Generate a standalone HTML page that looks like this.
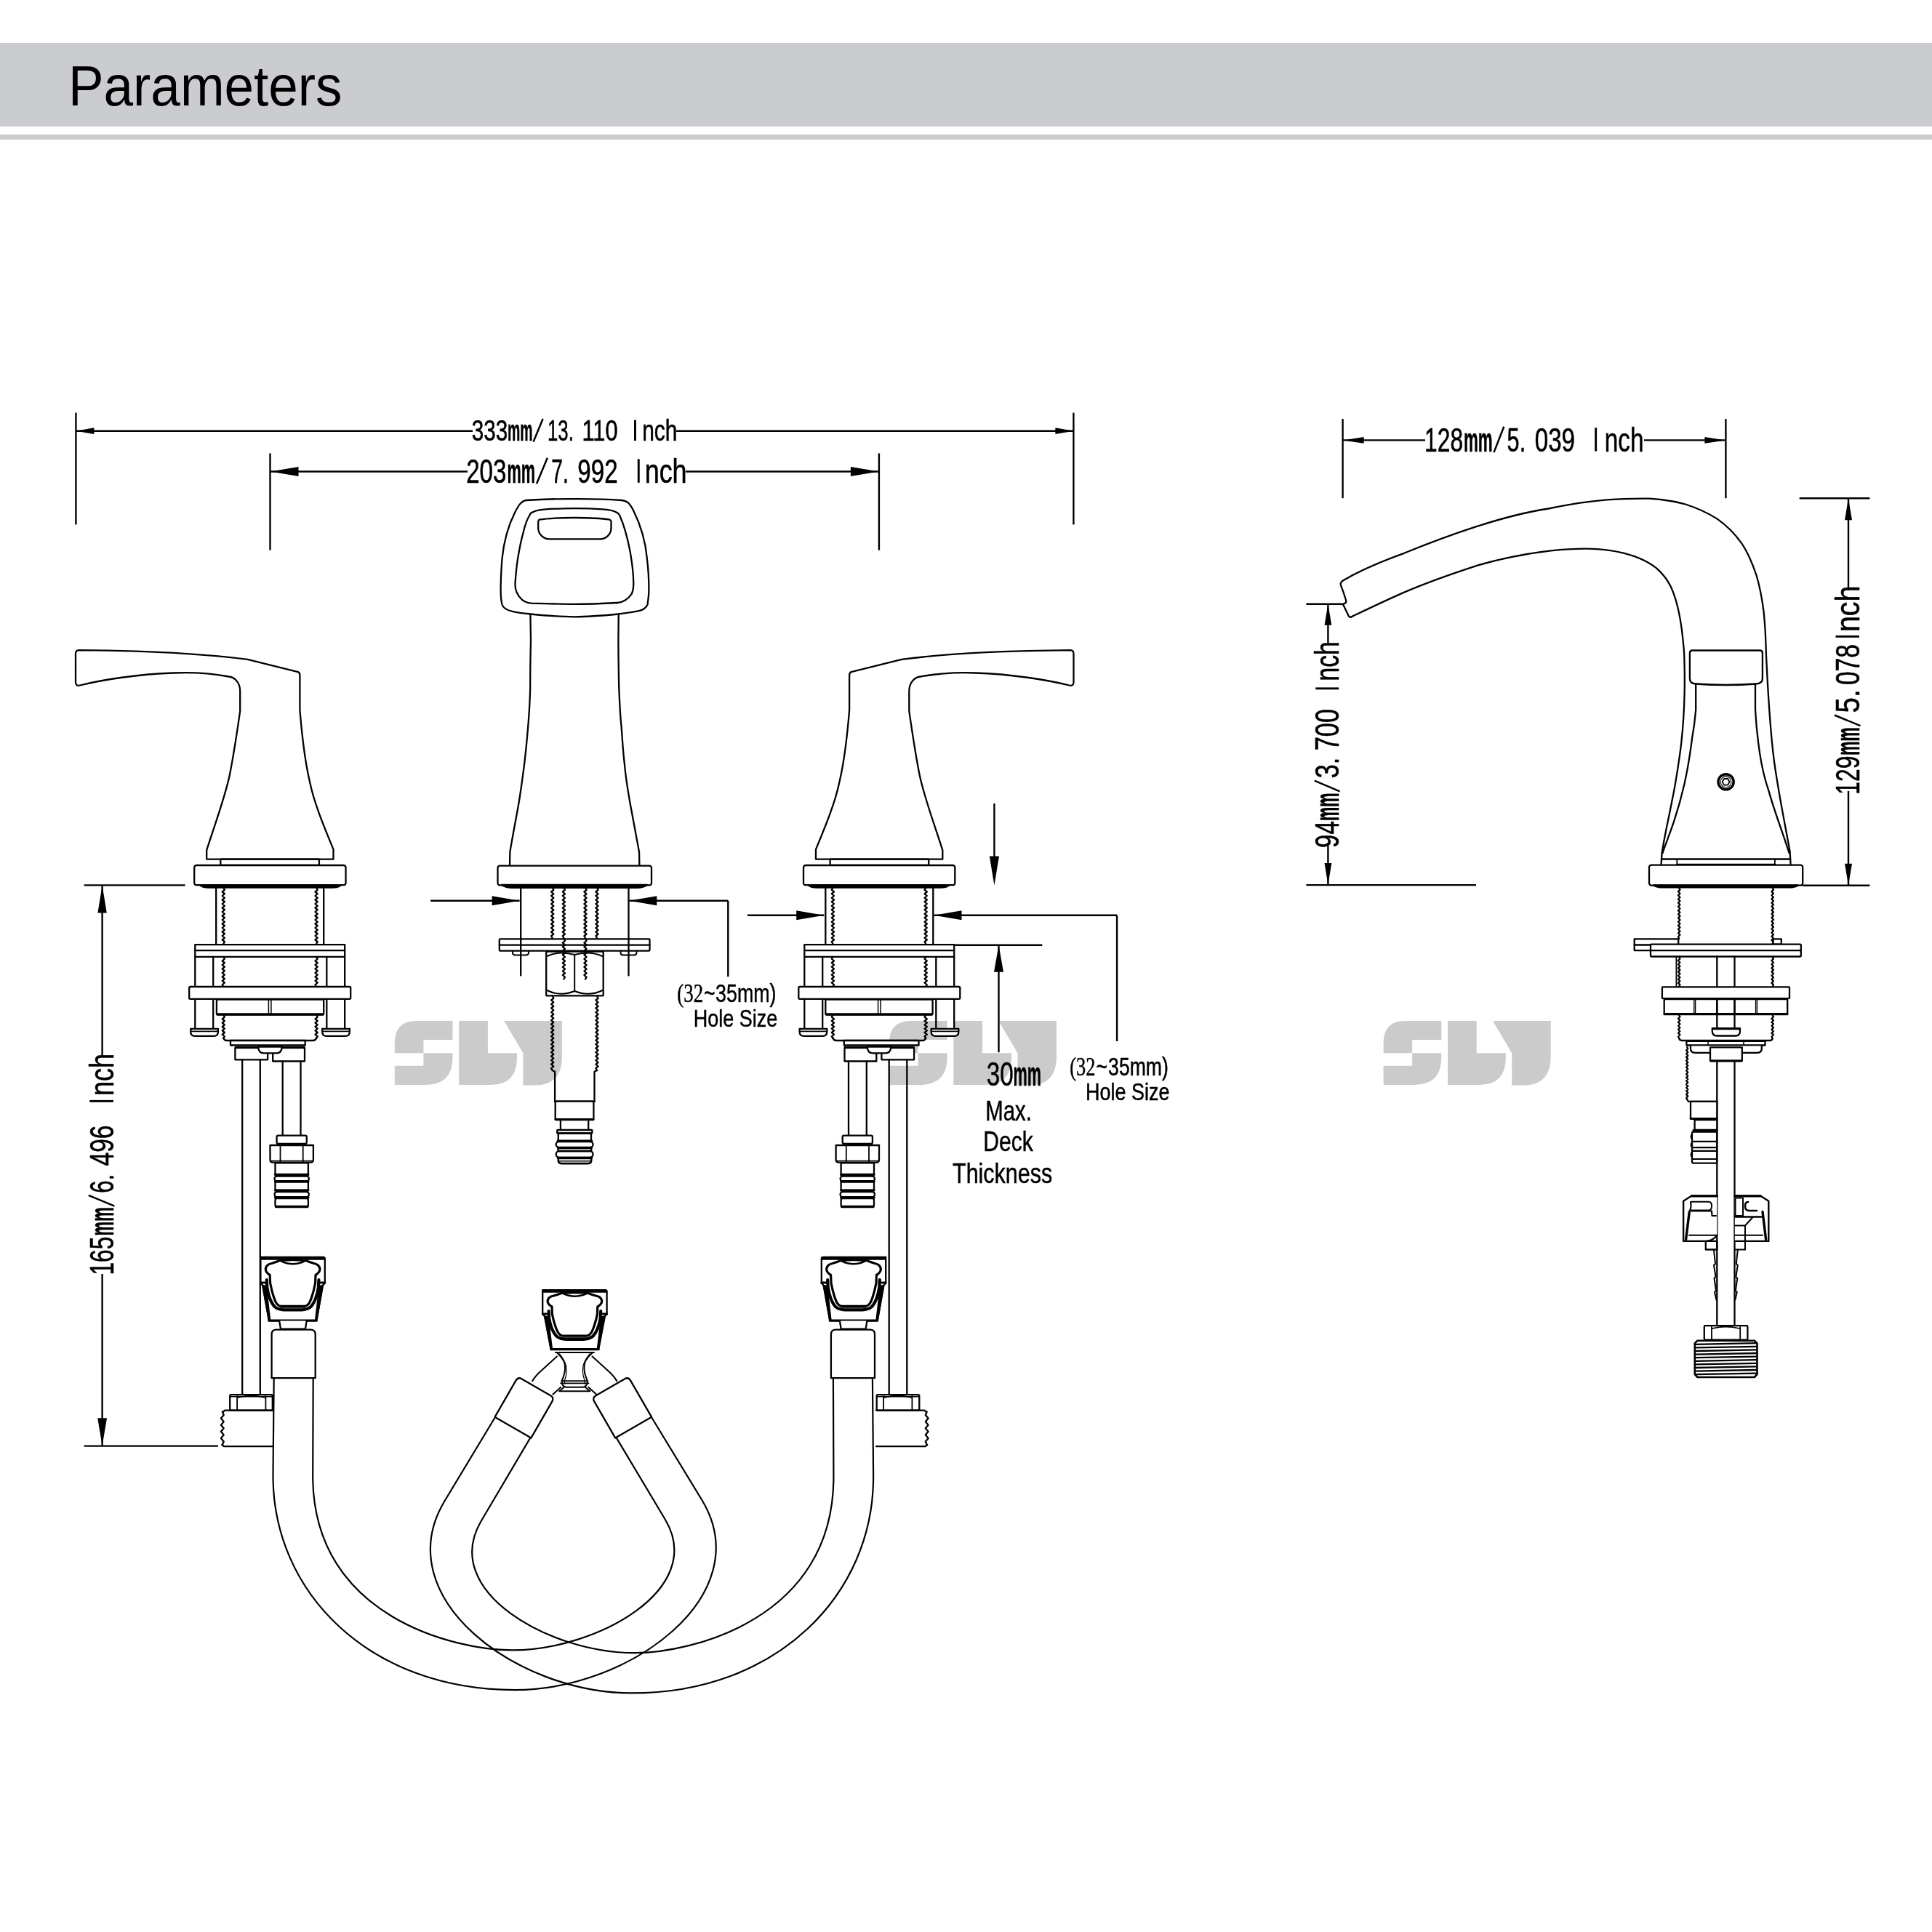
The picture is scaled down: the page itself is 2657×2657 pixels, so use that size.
<!DOCTYPE html>
<html><head><meta charset="utf-8"><title>Parameters</title>
<style>
html,body{margin:0;padding:0;background:#fff;}
body{width:2657px;height:2657px;position:relative;overflow:hidden;font-family:"Liberation Sans",sans-serif;}
.bar{position:absolute;left:0;top:59px;width:2657px;height:115px;background:#cbccd0;}
.bar2{position:absolute;left:0;top:185px;width:2657px;height:6.5px;background:#cbccd0;}
.title{position:absolute;left:94.4px;top:61px;height:115px;line-height:115px;font-size:78px;color:#000;white-space:nowrap;transform:scaleX(0.934);transform-origin:0 0;}
svg{position:absolute;left:0;top:0;will-change:transform;}
</style></head>
<body>
<div class="bar"></div><div class="bar2"></div>
<div class="title">Parameters</div>
<svg width="2657" height="2657" viewBox="0 0 2657 2657">
<g transform="translate(542.8,1403.9)" fill="#cbcbcb" stroke="none"><path d="M0,30.5 Q0,0 29.5,0 L79.7,0 L79.7,26.2 L39.6,26.2 L39.6,44.3 L79.7,44.3 L79.7,50.7 Q79.7,88.1 42,88.1 L0,88.1 L0,61.8 L39.6,61.8 L39.6,44.3 L0,44.3 Z"/><path d="M88.4,0 L128.1,0 L128.1,44.3 L168.2,44.3 L168.2,50.7 Q168.2,88.1 132,88.1 L88.4,88.1 Z"/><path d="M150.3,0 L230.1,0 L230.1,49.4 Q230.1,88.7 192.7,88.7 L176.6,88.7 L176.6,44.3 Z"/></g>
<g transform="translate(1222.9,1403.9)" fill="#cbcbcb" stroke="none"><path d="M0,30.5 Q0,0 29.5,0 L79.7,0 L79.7,26.2 L39.6,26.2 L39.6,44.3 L79.7,44.3 L79.7,50.7 Q79.7,88.1 42,88.1 L0,88.1 L0,61.8 L39.6,61.8 L39.6,44.3 L0,44.3 Z"/><path d="M88.4,0 L128.1,0 L128.1,44.3 L168.2,44.3 L168.2,50.7 Q168.2,88.1 132,88.1 L88.4,88.1 Z"/><path d="M150.3,0 L230.1,0 L230.1,49.4 Q230.1,88.7 192.7,88.7 L176.6,88.7 L176.6,44.3 Z"/></g>
<g transform="translate(1902.6,1403.9)" fill="#cbcbcb" stroke="none"><path d="M0,30.5 Q0,0 29.5,0 L79.7,0 L79.7,26.2 L39.6,26.2 L39.6,44.3 L79.7,44.3 L79.7,50.7 Q79.7,88.1 42,88.1 L0,88.1 L0,61.8 L39.6,61.8 L39.6,44.3 L0,44.3 Z"/><path d="M88.4,0 L128.1,0 L128.1,44.3 L168.2,44.3 L168.2,50.7 Q168.2,88.1 132,88.1 L88.4,88.1 Z"/><path d="M150.3,0 L230.1,0 L230.1,49.4 Q230.1,88.7 192.7,88.7 L176.6,88.7 L176.6,44.3 Z"/></g>
<g stroke="#000" stroke-width="2.4" fill="none"><line x1="104.4" y1="567.6" x2="104.4" y2="721.4"/><line x1="1476.4" y1="567.6" x2="1476.4" y2="721.4"/><line x1="104.4" y1="592.7" x2="650" y2="592.7"/><line x1="930" y1="592.7" x2="1476.4" y2="592.7"/><path d="M104.4,592.7 L129.4,588.3 L129.4,597.1 Z" fill="#000" stroke="none"/><path d="M1476.4,592.7 L1451.4,597.1 L1451.4,588.3 Z" fill="#000" stroke="none"/><line x1="371.5" y1="623.5" x2="371.5" y2="756.6"/><line x1="1208.9" y1="623.5" x2="1208.9" y2="756.6"/><line x1="371.5" y1="648.5" x2="643" y2="648.5"/><line x1="943" y1="648.5" x2="1208.9" y2="648.5"/><path d="M371.5,648.5 L410.5,641.9 L410.5,655.1 Z" fill="#000" stroke="none"/><path d="M1208.9,648.5 L1169.9,655.1 L1169.9,641.9 Z" fill="#000" stroke="none"/><line x1="115.7" y1="1217.4" x2="254.6" y2="1217.4"/><line x1="115.7" y1="1988.6" x2="300" y2="1988.6"/><line x1="140.6" y1="1217.4" x2="140.6" y2="1452"/><line x1="140.6" y1="1752" x2="140.6" y2="1988.6"/><path d="M140.6,1217.4 L146.8,1255.4 L134.4,1255.4 Z" fill="#000" stroke="none"/><path d="M140.6,1988.6 L134.2,1950.2 L147.0,1950.2 Z" fill="#000" stroke="none"/><line x1="592.1" y1="1238.8" x2="714.6" y2="1238.8"/><path d="M714.6,1238.8 L676.6,1245.3 L676.6,1232.3 Z" fill="#000" stroke="none"/><line x1="865.3" y1="1238.8" x2="1001.3" y2="1238.8"/><line x1="1001.3" y1="1238.8" x2="1001.3" y2="1343.2"/><path d="M865.3,1238.8 L903.3,1232.3 L903.3,1245.3 Z" fill="#000" stroke="none"/><line x1="1028" y1="1258.7" x2="1133.2" y2="1258.7"/><path d="M1133.2,1258.7 L1095.2,1265.2 L1095.2,1252.2 Z" fill="#000" stroke="none"/><line x1="1284.5" y1="1258.7" x2="1536.1" y2="1258.7"/><line x1="1536.1" y1="1258.7" x2="1536.1" y2="1432"/><path d="M1284.5,1258.7 L1322.5,1252.2 L1322.5,1265.2 Z" fill="#000" stroke="none"/><line x1="1367.4" y1="1105" x2="1367.4" y2="1190"/><path d="M1367.4,1217.6 L1360.8,1177.6 L1374.0,1177.6 Z" fill="#000" stroke="none"/><line x1="1313" y1="1299.8" x2="1433.3" y2="1299.8"/><line x1="1373.5" y1="1300" x2="1373.5" y2="1447.2"/><path d="M1373.5,1299.8 L1380.0,1336.8 L1367.0,1336.8 Z" fill="#000" stroke="none"/><line x1="1846.6" y1="576.1" x2="1846.6" y2="685.2"/><line x1="2373.4" y1="576.1" x2="2373.4" y2="685.2"/><line x1="1846.6" y1="605.4" x2="1960" y2="605.4"/><line x1="2261" y1="605.4" x2="2373.4" y2="605.4"/><path d="M1846.6,605.4 L1875.6,601.0 L1875.6,609.8 Z" fill="#000" stroke="none"/><path d="M2373.4,605.4 L2344.4,609.8 L2344.4,601.0 Z" fill="#000" stroke="none"/><line x1="1796.4" y1="830.7" x2="1846.6" y2="830.7"/><line x1="1796.4" y1="1217.1" x2="2030" y2="1217.1"/><line x1="1826.4" y1="830.7" x2="1826.4" y2="884"/><line x1="1826.4" y1="1163" x2="1826.4" y2="1217.1"/><path d="M1826.4,830.7 L1831.3,859.7 L1821.5,859.7 Z" fill="#000" stroke="none"/><path d="M1826.4,1217.1 L1821.5,1187.1 L1831.3,1187.1 Z" fill="#000" stroke="none"/><line x1="2474.7" y1="685.3" x2="2571.4" y2="685.3"/><line x1="2479" y1="1217.8" x2="2571.4" y2="1217.8"/><line x1="2542" y1="685.3" x2="2542" y2="812"/><line x1="2542" y1="1088" x2="2542" y2="1217.8"/><path d="M2542.0,685.3 L2547.0,715.3 L2537.0,715.3 Z" fill="#000" stroke="none"/><path d="M2542.0,1217.8 L2537.0,1187.8 L2547.0,1187.8 Z" fill="#000" stroke="none"/></g>
<g fill="#000" stroke="#000" stroke-width="0.6"><text x="648.8" y="606.1" font-size="40.714285714285715" font-family="Liberation Sans" textLength="49.4" lengthAdjust="spacingAndGlyphs">333</text><text x="698.0" y="606.1" font-size="40.714285714285715" font-family="Liberation Sans" font-weight="bold" textLength="34.6" lengthAdjust="spacingAndGlyphs">mm</text><line x1="733.6" y1="607.6" x2="746.6" y2="576.1" stroke="#000" stroke-width="2.5"/><text x="753.0" y="606.1" font-size="40.714285714285715" font-family="Liberation Sans" textLength="35.8" lengthAdjust="spacingAndGlyphs">13.</text><text x="800.5" y="606.1" font-size="40.714285714285715" font-family="Liberation Sans" textLength="49.1" lengthAdjust="spacingAndGlyphs">110</text><rect x="872.0" y="577.6" width="2.9" height="28.5" fill="#000" stroke="none"/><text x="883.2" y="606.1" font-size="40.714285714285715" font-family="Liberation Sans" textLength="48.2" lengthAdjust="spacingAndGlyphs">nch</text><text x="641.2" y="663.8" font-size="46.42857142857143" font-family="Liberation Sans" textLength="55.3" lengthAdjust="spacingAndGlyphs">203</text><text x="697.5" y="663.8" font-size="46.42857142857143" font-family="Liberation Sans" font-weight="bold" textLength="38.6" lengthAdjust="spacingAndGlyphs">mm</text><line x1="738.0" y1="665.3" x2="752.8" y2="629.8" stroke="#000" stroke-width="2.5"/><text x="758.2" y="663.8" font-size="46.42857142857143" font-family="Liberation Sans" textLength="23.6" lengthAdjust="spacingAndGlyphs">7.</text><text x="794.3" y="663.8" font-size="46.42857142857143" font-family="Liberation Sans" textLength="55.3" lengthAdjust="spacingAndGlyphs">992</text><rect x="876.8" y="631.3" width="2.9" height="32.5" fill="#000" stroke="none"/><text x="886.7" y="663.8" font-size="46.42857142857143" font-family="Liberation Sans" textLength="57.9" lengthAdjust="spacingAndGlyphs">nch</text><text x="1959.1" y="620.6" font-size="46.14285714285714" font-family="Liberation Sans" textLength="53.0" lengthAdjust="spacingAndGlyphs">128</text><text x="2013.0" y="620.6" font-size="46.14285714285714" font-family="Liberation Sans" font-weight="bold" textLength="39.7" lengthAdjust="spacingAndGlyphs">mm</text><line x1="2054.5" y1="622.1" x2="2068.3" y2="586.8" stroke="#000" stroke-width="2.5"/><text x="2072.6" y="620.6" font-size="46.14285714285714" font-family="Liberation Sans" textLength="25.6" lengthAdjust="spacingAndGlyphs">5.</text><text x="2110.7" y="620.6" font-size="46.14285714285714" font-family="Liberation Sans" textLength="55.4" lengthAdjust="spacingAndGlyphs">039</text><rect x="2193.2" y="588.3" width="2.9" height="32.3" fill="#000" stroke="none"/><text x="2206.8" y="620.6" font-size="46.14285714285714" font-family="Liberation Sans" textLength="53.7" lengthAdjust="spacingAndGlyphs">nch</text><g transform="translate(1841.1,1165.1) rotate(-90)"><text x="-0.8" y="0" font-size="45.42857142857143" font-family="Liberation Sans" textLength="36.8" lengthAdjust="spacingAndGlyphs">94</text><text x="36.2" y="0" font-size="45.42857142857143" font-family="Liberation Sans" font-weight="bold" textLength="38.5" lengthAdjust="spacingAndGlyphs">mm</text><line x1="76.8" y1="1.5" x2="91.4" y2="-33.3" stroke="#000" stroke-width="2.5"/><text x="94.9" y="0" font-size="45.42857142857143" font-family="Liberation Sans" textLength="28.6" lengthAdjust="spacingAndGlyphs">3.</text><text x="132.8" y="0" font-size="45.42857142857143" font-family="Liberation Sans" textLength="57.5" lengthAdjust="spacingAndGlyphs">700</text><rect x="216.8" y="-31.8" width="2.9" height="31.8" fill="#000" stroke="none"/><text x="228.6" y="0" font-size="45.42857142857143" font-family="Liberation Sans" textLength="54.3" lengthAdjust="spacingAndGlyphs">nch</text></g><g transform="translate(2557,1092) rotate(-90)"><text x="-0.7" y="0" font-size="46.42857142857143" font-family="Liberation Sans" textLength="53.1" lengthAdjust="spacingAndGlyphs">129</text><text x="53.3" y="0" font-size="46.42857142857143" font-family="Liberation Sans" font-weight="bold" textLength="38.6" lengthAdjust="spacingAndGlyphs">mm</text><line x1="93.9" y1="1.5" x2="108.5" y2="-34.0" stroke="#000" stroke-width="2.5"/><text x="111.6" y="0" font-size="46.42857142857143" font-family="Liberation Sans" textLength="32.2" lengthAdjust="spacingAndGlyphs">5.</text><text x="149.9" y="0" font-size="46.42857142857143" font-family="Liberation Sans" textLength="55.9" lengthAdjust="spacingAndGlyphs">078</text><rect x="215.2" y="-32.5" width="2.9" height="32.5" fill="#000" stroke="none"/><text x="222.9" y="0" font-size="46.42857142857143" font-family="Liberation Sans" textLength="63.7" lengthAdjust="spacingAndGlyphs">nch</text></g><g transform="translate(155.9,1752.7) rotate(-90)"><text x="-0.8" y="0" font-size="46.57142857142858" font-family="Liberation Sans" textLength="52.7" lengthAdjust="spacingAndGlyphs">165</text><text x="53.2" y="0" font-size="46.57142857142858" font-family="Liberation Sans" font-weight="bold" textLength="39.3" lengthAdjust="spacingAndGlyphs">mm</text><line x1="94.1" y1="1.5" x2="108.8" y2="-34.1" stroke="#000" stroke-width="2.5"/><text x="111.9" y="0" font-size="46.57142857142858" font-family="Liberation Sans" textLength="25.9" lengthAdjust="spacingAndGlyphs">6.</text><text x="149.2" y="0" font-size="46.57142857142858" font-family="Liberation Sans" textLength="56.0" lengthAdjust="spacingAndGlyphs">496</text><rect x="236.9" y="-32.6" width="2.9" height="32.6" fill="#000" stroke="none"/><text x="245.7" y="0" font-size="46.57142857142858" font-family="Liberation Sans" textLength="57.9" lengthAdjust="spacingAndGlyphs">nch</text></g></g>
<g fill="#000" stroke="#000" stroke-width="0.5"><text x="931.3" y="1377.6" font-size="36.36363636363636" font-family="Liberation Serif" textLength="35.8" lengthAdjust="spacingAndGlyphs">(32</text><text x="968.0" y="1377.6" font-size="34.714285714285715" font-family="Liberation Sans" textLength="15.6" lengthAdjust="spacingAndGlyphs">~</text><text x="984.1" y="1377.6" font-size="34.714285714285715" font-family="Liberation Sans" textLength="83.4" lengthAdjust="spacingAndGlyphs">35mm)</text><text x="953.7" y="1411.8" font-size="34.0" font-family="Liberation Sans" textLength="115.5" lengthAdjust="spacingAndGlyphs">Hole Size</text><text x="1471.3" y="1478.7" font-size="36.36363636363636" font-family="Liberation Serif" textLength="35.2" lengthAdjust="spacingAndGlyphs">(32</text><text x="1507.5" y="1478.7" font-size="34.714285714285715" font-family="Liberation Sans" textLength="15.6" lengthAdjust="spacingAndGlyphs">~</text><text x="1524.1" y="1478.7" font-size="34.714285714285715" font-family="Liberation Sans" textLength="82.8" lengthAdjust="spacingAndGlyphs">35mm)</text><text x="1493.0" y="1512.8" font-size="34.0" font-family="Liberation Sans" textLength="115.5" lengthAdjust="spacingAndGlyphs">Hole Size</text><text x="1356.7" y="1492.8" font-size="46.42857142857143" font-family="Liberation Sans" textLength="37.0" lengthAdjust="spacingAndGlyphs">30</text><text x="1393.6" y="1492.8" font-size="46.42857142857143" font-family="Liberation Sans" font-weight="bold" textLength="38.5" lengthAdjust="spacingAndGlyphs">mm</text><text x="1355.2" y="1540.5" font-size="38.714285714285715" font-family="Liberation Sans" textLength="63.6" lengthAdjust="spacingAndGlyphs">Max.</text><text x="1352.3" y="1583.2" font-size="38.57142857142857" font-family="Liberation Sans" textLength="68.5" lengthAdjust="spacingAndGlyphs">Deck</text><text x="1310.0" y="1626.5" font-size="38.57142857142857" font-family="Liberation Sans" textLength="137.3" lengthAdjust="spacingAndGlyphs">Thickness</text></g>
<g id="lv" stroke="#000" stroke-width="2.3" fill="none" stroke-linejoin="round" stroke-linecap="round"><path d="M108.6,894.2 C200,895 280,899 340.5,906.9 L409.9,924.2 Q412.4,925 412.4,929 L412.4,976.6 C416,1020 420,1050 426,1075 C432,1105 447,1140 458.5,1168.1 L458.5,1181.6 L284.2,1181.6 L284.2,1169.2 C295,1135 310,1095 316,1065 C322,1035 327,1000 330.2,977.7 L330.2,950.7 C330.2,938 322,931 314.6,930.5 C290,926 260,924.5 239,925.5 C190,927 140,935 110,942.5 Q104,944 104,938 L104,899 Q104,894.4 108.6,894.2 Z" fill="#fff"/><rect x="303.3" y="1181.6" width="135.6" height="8.3" fill="none"/><rect x="267.2" y="1190" width="208.3" height="27.2" rx="3" fill="#fff"/><path d="M275,1217.3 Q279,1220.6 287,1220.6 L457,1220.6 Q465,1220.6 469,1217.3 Z" fill="#000"/><line x1="297.2" y1="1220" x2="297.2" y2="1299"/><line x1="445.2" y1="1220" x2="445.2" y2="1299"/><path d="M307.3,1221.0 L308.9,1223.8 L305.7,1226.5 L308.9,1229.2 L305.7,1232.0 L308.9,1234.8 L305.7,1237.5 L308.9,1240.2 L305.7,1243.0 L308.9,1245.8 L305.7,1248.5 L308.9,1251.2 L305.7,1254.0 L308.9,1256.8 L305.7,1259.5 L308.9,1262.2 L305.7,1265.0 L308.9,1267.8 L305.7,1270.5 L308.9,1273.2 L305.7,1276.0 L308.9,1278.8 L305.7,1281.5 L308.9,1284.2 L305.7,1287.0 L308.9,1289.8 L305.7,1292.5 L308.9,1295.2 L307.3,1298.0"/><path d="M435.1,1221.0 L436.7,1223.8 L433.5,1226.5 L436.7,1229.2 L433.5,1232.0 L436.7,1234.8 L433.5,1237.5 L436.7,1240.2 L433.5,1243.0 L436.7,1245.8 L433.5,1248.5 L436.7,1251.2 L433.5,1254.0 L436.7,1256.8 L433.5,1259.5 L436.7,1262.2 L433.5,1265.0 L436.7,1267.8 L433.5,1270.5 L436.7,1273.2 L433.5,1276.0 L436.7,1278.8 L433.5,1281.5 L436.7,1284.2 L433.5,1287.0 L436.7,1289.8 L433.5,1292.5 L436.7,1295.2 L435.1,1298.0"/><rect x="268.3" y="1299.1" width="205.9" height="16.8" fill="#fff"/><line x1="268.3" y1="1307.2" x2="474.2" y2="1307.2"/><line x1="268.3" y1="1316" x2="268.3" y2="1357"/><line x1="268.3" y1="1374" x2="268.3" y2="1414.5"/><line x1="293.2" y1="1316" x2="293.2" y2="1357"/><line x1="293.2" y1="1374" x2="293.2" y2="1414.5"/><line x1="449.3" y1="1316" x2="449.3" y2="1357"/><line x1="449.3" y1="1374" x2="449.3" y2="1414.5"/><line x1="474.2" y1="1316" x2="474.2" y2="1357"/><line x1="474.2" y1="1374" x2="474.2" y2="1414.5"/><path d="M307.3,1316.0 L308.9,1318.7 L305.7,1321.5 L308.9,1324.2 L305.7,1326.9 L308.9,1329.7 L305.7,1332.4 L308.9,1335.1 L305.7,1337.9 L308.9,1340.6 L305.7,1343.3 L308.9,1346.1 L305.7,1348.8 L308.9,1351.5 L305.7,1354.3 L307.3,1357.0"/><path d="M435.1,1316.0 L436.7,1318.7 L433.5,1321.5 L436.7,1324.2 L433.5,1326.9 L436.7,1329.7 L433.5,1332.4 L436.7,1335.1 L433.5,1337.9 L436.7,1340.6 L433.5,1343.3 L436.7,1346.1 L433.5,1348.8 L436.7,1351.5 L433.5,1354.3 L435.1,1357.0"/><rect x="260.2" y="1357" width="222.0" height="16.8" rx="1.5" fill="#fff"/><path d="M262.2,1414.8 L299.9,1414.8 L299.9,1419 Q299.9,1424.9 294,1424.9 L268,1424.9 Q262.2,1424.9 262.2,1419 Z" fill="#fff"/><line x1="263" y1="1418.4" x2="299" y2="1418.4" stroke-width="1.6"/><path d="M443.2,1414.8 L480.9,1414.8 L480.9,1419 Q480.9,1424.9 475,1424.9 L449,1424.9 Q443.2,1424.9 443.2,1419 Z" fill="#fff"/><line x1="444" y1="1418.4" x2="480" y2="1418.4" stroke-width="1.6"/><rect x="297.9" y="1374.5" width="147.3" height="20.8" rx="1.5" fill="#fff"/><line x1="299" y1="1395" x2="444" y2="1395" stroke-width="3.4"/><line x1="369.4" y1="1374.5" x2="369.4" y2="1395.3" stroke-width="1.5"/><line x1="372.9" y1="1374.5" x2="372.9" y2="1395.3" stroke-width="1.5"/><path d="M307.3,1396.0 L308.9,1398.7 L305.7,1401.3 L308.9,1404.0 L305.7,1406.7 L308.9,1409.3 L305.7,1412.0 L308.9,1414.7 L305.7,1417.3 L308.9,1420.0 L305.7,1422.7 L308.9,1425.3 L307.3,1428.0"/><path d="M435.1,1396.0 L436.7,1398.7 L433.5,1401.3 L436.7,1404.0 L433.5,1406.7 L436.7,1409.3 L433.5,1412.0 L436.7,1414.7 L433.5,1417.3 L436.7,1420.0 L433.5,1422.7 L436.7,1425.3 L435.1,1428.0"/><path d="M307.3,1427 Q308,1431 312,1431 L430,1431 Q434.5,1431 435.1,1427"/><rect x="317" y="1431" width="102.7" height="6.5" fill="#fff"/><line x1="323.4" y1="1439.6" x2="419.3" y2="1439.6" stroke-width="1.0"/><rect x="323.4" y="1441" width="44.7" height="16.3" fill="#fff"/><rect x="375.2" y="1441" width="43.8" height="18.5" fill="#fff"/><path d="M355.3,1439.5 L355.3,1441.5 Q356.5,1448.3 362.5,1448.3 L380.5,1448.3 Q386.5,1448.3 387.6,1441.5 L387.6,1439.5 Z" fill="#fff"/><line x1="333.2" y1="1457.5" x2="333.2" y2="1918.5"/><line x1="357.8" y1="1457.5" x2="357.8" y2="1918.5"/><line x1="388.7" y1="1459.6" x2="388.7" y2="1561.6"/><line x1="413.5" y1="1459.6" x2="413.5" y2="1561.6"/><rect x="380.6" y="1561.6" width="41.2" height="11.2" rx="2" fill="#fff"/><path d="M371.5,1575 L430.9,1575 L430.9,1595 Q430.9,1598.6 427,1598.6 L375,1598.6 Q371.5,1598.6 371.5,1595 Z" fill="#fff"/><line x1="385.5" y1="1575" x2="385.5" y2="1598.6" stroke-width="1.8"/><line x1="416.7" y1="1575" x2="416.7" y2="1598.6" stroke-width="1.8"/><line x1="372" y1="1596.5" x2="430" y2="1596.5" stroke-width="1.5"/><line x1="382" y1="1573.8" x2="420" y2="1573.8" stroke-width="3"/><rect x="378.5" y="1599.3" width="45.4" height="16.1" fill="#fff"/><line x1="378.5" y1="1615.4" x2="423.9" y2="1615.4" stroke-width="3.2"/><rect x="377.5" y="1617.5" width="47.4" height="7.0" rx="3.5" fill="none"/><line x1="378.5" y1="1624.5" x2="423.9" y2="1624.5" stroke-width="3.2"/><rect x="378.5" y="1625.5" width="45.4" height="11.5" fill="none"/><line x1="378.5" y1="1637" x2="423.9" y2="1637" stroke-width="3.2"/><rect x="377.5" y="1639" width="47.4" height="7.2" rx="3.5" fill="none"/><line x1="378.5" y1="1646.8" x2="423.9" y2="1646.8" stroke-width="3.4"/><rect x="378.5" y="1648" width="45.4" height="11.5" rx="2.5" fill="none"/><line x1="379.5" y1="1659.5" x2="422.9" y2="1659.5" stroke-width="3.4"/><rect x="316.2" y="1918.2" width="58.6" height="21.4" rx="1.5" fill="#fff"/><line x1="326.1" y1="1920" x2="326.1" y2="1939.6" stroke-width="1.8"/><line x1="365.4" y1="1920" x2="365.4" y2="1939.6" stroke-width="1.8"/><path d="M327,1922 Q345.5,1917 364.5,1922" stroke-width="1.8"/><line x1="317" y1="1920.8" x2="374" y2="1920.8" stroke-width="1.4"/><path d="M375.6,1939.6 L309,1939.6 L307.3,1941.5" /><path d="M305.8,1941.5 L307.7,1946.0 L303.9,1950.6 L307.7,1955.2 L303.9,1959.7 L307.7,1964.2 L303.9,1968.8 L307.7,1973.3 L303.9,1977.9 L307.7,1982.5 L305.8,1987.0"/><path d="M305.3,1987 L308,1989.1 L375.6,1989.1"/></g>
<use href="#lv" transform="translate(1580.5,0) scale(-1,1)"/>
<g id="hv" stroke="#000" stroke-width="2.3" fill="none" stroke-linejoin="round" stroke-linecap="round"><path d="M358.4,1730.5 L358.4,1764.5 L361.1,1767.5 L370.0,1816.2 L435.2,1816.2 L444.1,1767.5 L446.8,1764.5 L446.8,1731.5 Q446.8,1729.0 444.6,1729.0 L358.4,1729.0 Z" fill="#fff" stroke-width="2.3"/><path d="M359.6,1730.7 L445.6,1730.7" stroke-width="4"/><path d="M358.4,1764.1 L366.1,1764.1 M439.1,1764.1 L446.8,1764.1" stroke-width="3"/><path d="M361.1,1767.5 L366.1,1768.5 L371.6,1816.2 L369.4,1816.2 Z M444.1,1767.5 L439.1,1768.5 L433.6,1816.2 L435.8,1816.2 Z" fill="#000" stroke-width="1.5"/><path d="M370.0,1816.2 L435.2,1816.2" stroke-width="3.2"/><path d="M366.8,1760.0 L367.3,1770.5 Q370.1,1788.5 377.6,1797.0 Q382.6,1801.3 390.6,1801.3 L414.6,1801.3 Q422.6,1801.3 427.6,1797.0 Q435.1,1788.5 437.9,1770.5 L438.4,1760.0" stroke-width="4.2"/><path d="M371.2,1753.5 Q365.1,1750.0 365.3,1745.0 Q366.1,1739.0 373.6,1737.5 Q378.6,1736.0 384.1,1733.7 Q402.6,1731.7 421.1,1733.7 Q426.6,1736.0 431.6,1737.5 Q439.1,1739.0 439.9,1745.0 Q440.1,1750.0 434.0,1753.5 L433.6,1764.5 Q430.6,1780.5 426.1,1790.5 Q423.1,1796.3 418.6,1796.3 L386.6,1796.3 Q382.1,1796.3 379.1,1790.5 Q374.6,1780.5 371.6,1764.5 Z" fill="#fff" stroke-width="3.2"/><path d="M386.4,1734.1 Q402.6,1742.5 419.5,1734.1" stroke-width="2.4"/><path d="M385.6,1798.7 L419.6,1798.7" stroke-width="0.9"/><path d="M384.2,1816.6 L386,1827.7 L419.9,1827.7 L421.7,1816.6" fill="#fff"/><path d="M373.6,1895.2 L373.6,1835 Q373.6,1828.6 380,1828.6 L427,1828.6 Q433.7,1828.6 433.7,1835 L433.7,1895.2 Z" fill="#fff"/><g transform="translate(855.2,1935.5) rotate(-30)"><path d="M-28.8,32 L-28.8,-26 Q-28.8,-32 -22.8,-32 L22.8,-32 Q28.8,-32 28.8,-26 L28.8,32 Z" fill="#fff"/></g></g>
<use href="#hv" transform="translate(1576.6,0) scale(-1,1)"/>
<g id="hl" stroke="#000" stroke-width="2.2" fill="none" stroke-linejoin="round" stroke-linecap="round"><path d="M376.7,1895.2 L375.5,2030 C375.5,2189.3 506.8,2324.1 708,2324.1 C866.5,2324.1 1043.1,2194 966,2064 L896.7,1950.2"/><path d="M430.7,1895.2 L430.2,2030 C430.2,2224.9 628.3,2269.4 704.2,2269.4 C820.1,2269.4 971.9,2185.9 915,2090 L847.9,1977.6"/></g>
<use href="#hl" transform="translate(1576.6,1895) scale(-1,1.0102) translate(0,-1895)"/>
<g stroke="#000" stroke-width="2.3" fill="none" stroke-linejoin="round" stroke-linecap="round"><path d="M723.4,688 C745,686.5 770,686 789.9,686.1 C810,686 835,686.5 855.1,688 C862,688.5 866,692 871.2,702.3 C880,720 888,745 890,770 C892,785 892.4,800 892.4,812.9 C892,822 891,828 890.5,831.5 C888,837 884,839 878.7,840.2 C865,843 858,843.5 850.1,844.5 C830,846.5 810,848.3 789.9,848.3 C770,848.3 750,846.5 729.6,844.5 C720,843.5 712,842.5 704.8,840.8 C696,839 692,836 690.5,831.5 C689,825 688.6,820 688.6,812 C688.6,800 689,790 690,775 C692,745 698,725 708,705 C713,695 717,689 723.4,688 Z" fill="#fff"/><path d="M729.6,706 C735,702 742,701 750.7,700.4 C765,699.5 778,699.2 789.9,699.2 C802,699.2 815,699.5 829,700.4 C838,701 845,702 850.1,706 Q852,708 852.6,709.8 C858,722 862,735 866.3,757 C869,772 871,788 871.2,800.4 C871.5,810 870,814 868.8,816.6 C864,824 856,829 848.9,829 C830,830 810,830.9 789.9,830.9 C770,830.9 750,830 730.9,829.6 C723,829 719,826 717.2,824 C711,818 708.5,812 708.5,804.2 C709,792 710,785 711,775.6 C714,755 716,745 719.7,732.1 C722,722 725,714 728.4,708.5 Z"/><path d="M741.5,714.7 C755,712.5 775,712 789.3,712 C805,712 825,712.5 838.5,714.7 Q840.5,715.5 840.5,718 L840.5,725.9 C840.5,735 833,741.4 825.3,741.4 L755.7,741.4 C748,741.4 740.2,735 740.2,725.9 L740.2,718 Q740.2,715.5 741.5,714.7 Z"/><path d="M729.4,845.2 L730,880 L729.6,900 C729.2,920 729.2,940 729.2,946.4 C728.5,970 727.5,985 726.2,999.4 C724.5,1020 723,1035 721.3,1049 C718,1075 716,1090 713,1107 C708,1135 704,1155 701.4,1171.6 L701,1190.7" fill="none"/><path d="M850.7,845.2 L850.4,880 L850.5,900 C850.8,920 851,940 851.3,946.4 C852.2,970 853,985 854.6,999.4 C856,1020 857,1035 858.7,1049 C861,1075 864,1090 867,1107 C872,1135 876,1155 879,1171.6 L879.4,1190.7" fill="none"/><rect x="684.5" y="1190.7" width="211.5" height="26.7" rx="3" fill="#fff"/><path d="M690,1217 Q696,1220.8 704,1220.8 L876,1220.8 Q884,1220.8 890,1217 Z" fill="#000"/><line x1="716.2" y1="1221" x2="716.2" y2="1341.5"/><line x1="864.5" y1="1221" x2="864.5" y2="1341.5"/><path d="M759.7,1221.0 L761.3,1223.8 L758.1,1226.5 L761.3,1229.3 L758.1,1232.0 L761.3,1234.8 L758.1,1237.6 L761.3,1240.3 L758.1,1243.1 L761.3,1245.8 L758.1,1248.6 L761.3,1251.4 L758.1,1254.1 L761.3,1256.9 L758.1,1259.6 L761.3,1262.4 L758.1,1265.2 L761.3,1267.9 L758.1,1270.7 L761.3,1273.4 L758.1,1276.2 L761.3,1279.0 L758.1,1281.7 L761.3,1284.5 L758.1,1287.2 L759.7,1290.0"/><path d="M775.4,1221.0 L777.0,1223.8 L773.8,1226.5 L777.0,1229.3 L773.8,1232.0 L777.0,1234.8 L773.8,1237.6 L777.0,1240.3 L773.8,1243.1 L777.0,1245.8 L773.8,1248.6 L777.0,1251.4 L773.8,1254.1 L777.0,1256.9 L773.8,1259.6 L777.0,1262.4 L773.8,1265.2 L777.0,1267.9 L773.8,1270.7 L777.0,1273.4 L773.8,1276.2 L777.0,1279.0 L773.8,1281.7 L777.0,1284.5 L773.8,1287.2 L775.4,1290.0"/><path d="M805.0,1221.0 L806.6,1223.8 L803.4,1226.5 L806.6,1229.3 L803.4,1232.0 L806.6,1234.8 L803.4,1237.6 L806.6,1240.3 L803.4,1243.1 L806.6,1245.8 L803.4,1248.6 L806.6,1251.4 L803.4,1254.1 L806.6,1256.9 L803.4,1259.6 L806.6,1262.4 L803.4,1265.2 L806.6,1267.9 L803.4,1270.7 L806.6,1273.4 L803.4,1276.2 L806.6,1279.0 L803.4,1281.7 L806.6,1284.5 L803.4,1287.2 L805.0,1290.0"/><path d="M821.0,1221.0 L822.6,1223.8 L819.4,1226.5 L822.6,1229.3 L819.4,1232.0 L822.6,1234.8 L819.4,1237.6 L822.6,1240.3 L819.4,1243.1 L822.6,1245.8 L819.4,1248.6 L822.6,1251.4 L819.4,1254.1 L822.6,1256.9 L819.4,1259.6 L822.6,1262.4 L819.4,1265.2 L822.6,1267.9 L819.4,1270.7 L822.6,1273.4 L819.4,1276.2 L822.6,1279.0 L819.4,1281.7 L822.6,1284.5 L819.4,1287.2 L821.0,1290.0"/><rect x="686.8" y="1291.4" width="206.7" height="16.3" rx="1.2" fill="#fff"/><line x1="686.8" y1="1299.7" x2="893.5" y2="1299.7"/><line x1="716.2" y1="1291.4" x2="716.2" y2="1307.7"/><line x1="864.5" y1="1291.4" x2="864.5" y2="1307.7"/><path d="M705,1308.5 L705,1310 Q705,1313.5 709,1313.5 L723,1313.5 Q727,1313.5 727,1310 L727,1308.5" stroke-width="2"/><path d="M853.5,1308.5 L853.5,1310 Q853.5,1313.5 857.5,1313.5 L871.5,1313.5 Q875.5,1313.5 875.5,1310 L875.5,1308.5" stroke-width="2"/><rect x="751.2" y="1308.5" width="78.5" height="60.9" rx="1.5" fill="#fff"/><path d="M752.5,1315 Q770,1307 790.2,1313 Q810,1307 828.5,1315" stroke-width="2"/><path d="M752.5,1362 Q770,1371 790.2,1363 Q810,1371 828.5,1362" stroke-width="2"/><line x1="790.2" y1="1313" x2="790.2" y2="1363" stroke-width="2"/><path d="M775.4,1291.0 L777.0,1293.8 L773.8,1296.6 L777.0,1299.3 L773.8,1302.1 L777.0,1304.9 L773.8,1307.7 L777.0,1310.5 L773.8,1313.2 L777.0,1316.0 L773.8,1318.8 L777.0,1321.6 L773.8,1324.4 L777.0,1327.1 L773.8,1329.9 L777.0,1332.7 L773.8,1335.5 L777.0,1338.3 L773.8,1341.0 L777.0,1343.8 L775.4,1346.6"/><path d="M805.0,1291.0 L806.6,1293.8 L803.4,1296.6 L806.6,1299.3 L803.4,1302.1 L806.6,1304.9 L803.4,1307.7 L806.6,1310.5 L803.4,1313.2 L806.6,1316.0 L803.4,1318.8 L806.6,1321.6 L803.4,1324.4 L806.6,1327.1 L803.4,1329.9 L806.6,1332.7 L803.4,1335.5 L806.6,1338.3 L803.4,1341.0 L806.6,1343.8 L805.0,1346.6"/><path d="M759.7,1370.0 L761.3,1372.8 L758.1,1375.5 L761.3,1378.3 L758.1,1381.0 L761.3,1383.8 L758.1,1386.5 L761.3,1389.3 L758.1,1392.1 L761.3,1394.8 L758.1,1397.6 L761.3,1400.3 L758.1,1403.1 L761.3,1405.8 L758.1,1408.6 L761.3,1411.4 L758.1,1414.1 L761.3,1416.9 L758.1,1419.6 L761.3,1422.4 L758.1,1425.1 L761.3,1427.9 L758.1,1430.6 L761.3,1433.4 L758.1,1436.2 L761.3,1438.9 L758.1,1441.7 L761.3,1444.4 L758.1,1447.2 L761.3,1449.9 L758.1,1452.7 L761.3,1455.5 L758.1,1458.2 L761.3,1461.0 L758.1,1463.7 L761.3,1466.5 L758.1,1469.2 L759.7,1472.0"/><path d="M821.0,1370.0 L822.6,1372.8 L819.4,1375.5 L822.6,1378.3 L819.4,1381.0 L822.6,1383.8 L819.4,1386.5 L822.6,1389.3 L819.4,1392.1 L822.6,1394.8 L819.4,1397.6 L822.6,1400.3 L819.4,1403.1 L822.6,1405.8 L819.4,1408.6 L822.6,1411.4 L819.4,1414.1 L822.6,1416.9 L819.4,1419.6 L822.6,1422.4 L819.4,1425.1 L822.6,1427.9 L819.4,1430.6 L822.6,1433.4 L819.4,1436.2 L822.6,1438.9 L819.4,1441.7 L822.6,1444.4 L819.4,1447.2 L822.6,1449.9 L819.4,1452.7 L822.6,1455.5 L819.4,1458.2 L822.6,1461.0 L819.4,1463.7 L822.6,1466.5 L819.4,1469.2 L821.0,1472.0"/><path d="M759.7,1472 L763.1,1473.8 L763.1,1514.7 M821,1472 L817.5,1473.8 L817.5,1514.7"/><line x1="763" y1="1514.7" x2="817.6" y2="1514.7" stroke-width="2.6"/><rect x="763.7" y="1514.7" width="52.7" height="24.9" rx="1.5" fill="#fff"/><line x1="764" y1="1539.6" x2="816" y2="1539.6" stroke-width="3.2"/><line x1="770.9" y1="1540" x2="770.9" y2="1554"/><line x1="809.2" y1="1540" x2="809.2" y2="1554"/><rect x="766.2" y="1554" width="48.2" height="4.6" rx="1" fill="#fff"/><line x1="767" y1="1558.6" x2="813.6" y2="1558.6" stroke-width="2.8"/><line x1="767.8" y1="1559" x2="767.8" y2="1569"/><line x1="813" y1="1559" x2="813" y2="1569"/><line x1="767" y1="1569" x2="813.8" y2="1569" stroke-width="3"/><rect x="764.7" y="1570" width="50.8" height="7.9" rx="3.9" fill="none"/><line x1="767.5" y1="1578.6" x2="813.5" y2="1578.6" stroke-width="3"/><rect x="767.5" y="1579" width="45.7" height="4.0" fill="none"/><rect x="764.7" y="1583" width="50.8" height="8.8" rx="4.3" fill="none"/><line x1="767.5" y1="1592.5" x2="813.5" y2="1592.5" stroke-width="3.4"/><path d="M767.8,1593 L767.8,1596 Q767.8,1600.1 772,1600.1 L809,1600.1 Q813.2,1600.1 813.2,1596 L813.2,1593" stroke-width="2.6"/><line x1="769" y1="1596.8" x2="812" y2="1596.8" stroke-width="1.5"/><path d="M746.2,1775.5 L746.2,1807.3 L748.9,1810.1 L757.8,1855.7 L823.0,1855.7 L831.9,1810.1 L834.6,1807.3 L834.6,1776.4 Q834.6,1774.1 832.4,1774.1 L746.2,1774.1 Z" fill="#fff" stroke-width="2.3"/><path d="M747.4,1775.7 L833.4,1775.7" stroke-width="4"/><path d="M746.2,1806.9 L753.9,1806.9 M826.9,1806.9 L834.6,1806.9" stroke-width="3"/><path d="M748.9,1810.1 L753.9,1811.0 L759.4,1855.7 L757.2,1855.7 Z M831.9,1810.1 L826.9,1811.0 L821.4,1855.7 L823.6,1855.7 Z" fill="#000" stroke-width="1.5"/><path d="M757.8,1855.7 L823.0,1855.7" stroke-width="3.2"/><path d="M754.6,1803.1 L755.1,1812.9 Q757.9,1829.8 765.4,1837.7 Q770.4,1841.8 778.4,1841.8 L802.4,1841.8 Q810.4,1841.8 815.4,1837.7 Q822.9,1829.8 825.7,1812.9 L826.2,1803.1" stroke-width="4.2"/><path d="M759.0,1797.0 Q752.9,1793.7 753.1,1789.0 Q753.9,1783.4 761.4,1782.0 Q766.4,1780.6 771.9,1778.5 Q790.4,1776.6 808.9,1778.5 Q814.4,1780.6 819.4,1782.0 Q826.9,1783.4 827.7,1789.0 Q827.9,1793.7 821.8,1797.0 L821.4,1807.3 Q818.4,1822.3 813.9,1831.6 Q810.9,1837.1 806.4,1837.1 L774.4,1837.1 Q769.9,1837.1 766.9,1831.6 Q762.4,1822.3 759.4,1807.3 Z" fill="#fff" stroke-width="3.2"/><path d="M774.2,1778.8 Q790.4,1786.7 807.3,1778.8" stroke-width="2.4"/><path d="M773.4,1839.3 L807.4,1839.3" stroke-width="0.9"/><line x1="763.7" y1="1855.7" x2="817" y2="1855.7" stroke-width="2"/><line x1="764" y1="1860" x2="817" y2="1860" stroke-width="2"/><path d="M766,1860 Q772,1866 775.5,1872 Q779,1882 775,1893 Q772,1900 773,1903 Q775,1907.8 780,1907.8 L800.5,1907.8 Q805.5,1907.8 807.5,1903 Q808.5,1900 805.5,1893 Q801.5,1882 805,1872 Q808.5,1866 815,1860" stroke-width="2"/><path d="M769.5,1862 Q776,1870 778.5,1878 Q780,1888 777.5,1895 Q775.5,1901 777,1903" stroke-width="1.2"/><path d="M811,1862 Q804.5,1870 802,1878 Q800.5,1888 803,1895 Q805,1901 803.5,1903" stroke-width="1.2"/><line x1="772" y1="1899.1" x2="808.5" y2="1899.1" stroke-width="1.6"/><line x1="771" y1="1902.4" x2="809.5" y2="1902.4" stroke-width="1.6"/><path d="M775.7,1907.8 L769.1,1913.3 L811.5,1913.3 L804.8,1907.8" stroke-width="2"/><path d="M732.2,1899.1 Q736,1893 740.9,1888.3 L765.9,1865.4" stroke-width="2"/><path d="M760.4,1917.6 L771.3,1907.8" stroke-width="2"/><path d="M848.3,1899.1 Q844.5,1893 839.6,1888.3 L814.6,1865.4" stroke-width="2"/><path d="M820.1,1917.6 L809.2,1907.8" stroke-width="2"/></g>
<g stroke="#000" stroke-width="2.3" fill="none" stroke-linejoin="round" stroke-linecap="round"><path d="M1846.8,798.4 C1875,782 1900,772 1931,760.8 C1965,747 2000,734 2031.9,723.7 C2065,713 2100,704 2129.5,699.5 C2165,692 2200,687 2233.8,686.1 C2250,685.6 2258,685.6 2267.4,685.7 C2285,686.5 2302,689 2317.9,693.5 C2335,699 2348,705 2361.6,713.6 C2375,723 2386,734 2395.3,747.3 C2404,760 2410,775 2415.5,791 C2420,806 2423.5,825 2425.6,841.5 C2427.5,860 2428.5,880 2428.9,900 C2430,920 2431,950 2434.7,994.9 C2437,1025 2440,1050 2443,1067.4 C2448,1100 2455,1135 2461.6,1171 L2462.6,1189.6"/><path d="M1858.6,848.2 C1880,838 1905,826 1931,814.6 C1965,800 2000,788 2031.9,777.6 C2065,768 2100,761 2132.8,757.4 C2150,755.5 2168,754.5 2183.3,754.7 C2200,755 2218,757 2233.8,760.8 C2252,765.5 2266,772 2277.5,780.9 C2288,790 2296,801 2301.1,814.6 C2307,830 2310.5,848 2312.8,865.1 C2314.5,880 2315.8,890 2316.2,900 C2316.8,920 2317,940 2316.6,953.5 C2316,985 2314,1010 2310.4,1036.4 C2307,1060 2304,1080 2300,1098.5 C2294,1130 2289,1150 2285.6,1173 L2284.5,1189.6"/><path d="M1846.8,798.4 Q1843.2,800.8 1843.8,804.3 Q1848,815 1851.1,825.5 Q1852,828.5 1849.5,829.8 L1846.9,830.9 L1854.7,847.1 Q1856.3,849.6 1858.9,848.3"/><path d="M2327.5,894.5 L2420.3,894.5 Q2423.9,894.5 2423.9,898 L2423.9,933 Q2423.9,940 2415,940.5 Q2395,942 2374,942 Q2352,942 2332,940.5 Q2323.9,940 2323.9,933 L2323.9,898 Q2323.9,894.5 2327.5,894.5 Z"/><path d="M2332.2,942 L2332.2,976.3 C2331,990 2329.5,1002 2327,1015.7 C2324,1040 2320.5,1060 2316.6,1077.8 C2312,1098 2307,1115 2302.1,1129.6 C2296,1148 2290,1162 2286.6,1173"/><path d="M2414,942 L2414,976.3 C2415,995 2417,1015 2420.2,1036.4 C2423,1055 2427,1072 2432.6,1088.1 C2440,1115 2450,1140 2460.5,1173"/><circle cx="2373.6" cy="1075.3" r="10.6" stroke-width="3.4"/><circle cx="2373.6" cy="1075.3" r="7.4" stroke-width="1.1"/><path d="M2368.6,1075.3 L2371.1,1071 L2376.1,1071 L2378.6,1075.3 L2376.1,1079.6 L2371.1,1079.6 Z" stroke-width="1.8"/><line x1="2284.8" y1="1181.5" x2="2462.2" y2="1181.5"/><line x1="2306.3" y1="1182" x2="2306.3" y2="1189.6" stroke-width="1.8"/><line x1="2440.9" y1="1182" x2="2440.9" y2="1189.6" stroke-width="1.8"/><line x1="2306.3" y1="1189.2" x2="2440.9" y2="1189.2" stroke-width="3"/><rect x="2268" y="1189.6" width="211.2" height="28.0" rx="3" fill="#fff"/><path d="M2274,1217.4 Q2279,1220.4 2286,1220.4 L2461,1220.4 Q2468,1220.4 2473,1217.4 Z" fill="#000"/><path d="M2309.2,1221.0 L2310.4,1223.6 L2308.0,1226.2 L2310.4,1228.8 L2308.0,1231.4 L2310.4,1234.0 L2308.0,1236.6 L2310.4,1239.1 L2308.0,1241.7 L2310.4,1244.3 L2308.0,1246.9 L2310.4,1249.5 L2308.0,1252.1 L2310.4,1254.7 L2308.0,1257.3 L2310.4,1259.9 L2308.0,1262.5 L2310.4,1265.1 L2308.0,1267.7 L2310.4,1270.3 L2308.0,1272.9 L2310.4,1275.4 L2308.0,1278.0 L2310.4,1280.6 L2308.0,1283.2 L2310.4,1285.8 L2308.0,1288.4 L2309.2,1291.0"/><path d="M2437.7,1221.0 L2438.9,1223.6 L2436.5,1226.1 L2438.9,1228.7 L2436.5,1231.3 L2438.9,1233.8 L2436.5,1236.4 L2438.9,1239.0 L2436.5,1241.5 L2438.9,1244.1 L2436.5,1246.7 L2438.9,1249.2 L2436.5,1251.8 L2438.9,1254.4 L2436.5,1256.9 L2438.9,1259.5 L2436.5,1262.1 L2438.9,1264.6 L2436.5,1267.2 L2438.9,1269.8 L2436.5,1272.3 L2438.9,1274.9 L2436.5,1277.5 L2438.9,1280.0 L2436.5,1282.6 L2438.9,1285.2 L2436.5,1287.7 L2438.9,1290.3 L2436.5,1292.9 L2438.9,1295.4 L2437.7,1298.0"/><rect x="2247.7" y="1291.3" width="60.5" height="15.8" fill="#fff"/><rect x="2438.6" y="1291.3" width="11.2" height="7.4" fill="#fff"/><rect x="2270" y="1298.7" width="206.8" height="16.8" rx="1" fill="#fff"/><line x1="2270" y1="1307.1" x2="2476.8" y2="1307.1"/><line x1="2247.7" y1="1299.5" x2="2270" y2="1299.5"/><path d="M2309.2,1316.0 L2310.4,1318.6 L2308.0,1321.1 L2310.4,1323.7 L2308.0,1326.2 L2310.4,1328.8 L2308.0,1331.4 L2310.4,1333.9 L2308.0,1336.5 L2310.4,1339.1 L2308.0,1341.6 L2310.4,1344.2 L2308.0,1346.8 L2310.4,1349.3 L2308.0,1351.9 L2310.4,1354.4 L2309.2,1357.0"/><line x1="2305.4" y1="1316" x2="2305.4" y2="1357" stroke-width="1.8"/><path d="M2437.7,1316.0 L2438.9,1318.6 L2436.5,1321.1 L2438.9,1323.7 L2436.5,1326.2 L2438.9,1328.8 L2436.5,1331.4 L2438.9,1333.9 L2436.5,1336.5 L2438.9,1339.1 L2436.5,1341.6 L2438.9,1344.2 L2436.5,1346.8 L2438.9,1349.3 L2436.5,1351.9 L2438.9,1354.4 L2437.7,1357.0"/><line x1="2361.3" y1="1315.5" x2="2361.3" y2="1414"/><line x1="2385.5" y1="1315.5" x2="2385.5" y2="1414"/><rect x="2285.9" y="1357.4" width="175.1" height="15.8" rx="1" fill="#fff"/><rect x="2288.7" y="1374.2" width="169.5" height="20.5" rx="1.5" fill="none"/><line x1="2289" y1="1394.7" x2="2458" y2="1394.7" stroke-width="3.2"/><line x1="2329.8" y1="1374.5" x2="2329.8" y2="1394.7" stroke-width="1.4"/><line x1="2331.6" y1="1374.5" x2="2331.6" y2="1394.7" stroke-width="1.4"/><line x1="2414.6" y1="1374.5" x2="2414.6" y2="1394.7" stroke-width="1.4"/><line x1="2416.4" y1="1374.5" x2="2416.4" y2="1394.7" stroke-width="1.4"/><line x1="2361.3" y1="1374" x2="2361.3" y2="1395"/><line x1="2385.5" y1="1374" x2="2385.5" y2="1395"/><path d="M2309.2,1396.0 L2310.4,1398.5 L2308.0,1400.9 L2310.4,1403.4 L2308.0,1405.8 L2310.4,1408.3 L2308.0,1410.8 L2310.4,1413.2 L2308.0,1415.7 L2310.4,1418.2 L2308.0,1420.6 L2310.4,1423.1 L2308.0,1425.5 L2309.2,1428.0"/><path d="M2437.7,1396.0 L2438.9,1398.5 L2436.5,1400.9 L2438.9,1403.4 L2436.5,1405.8 L2438.9,1408.3 L2436.5,1410.8 L2438.9,1413.2 L2436.5,1415.7 L2438.9,1418.2 L2436.5,1420.6 L2438.9,1423.1 L2436.5,1425.5 L2437.7,1428.0"/><path d="M2309.2,1428 Q2310,1431 2313,1431 L2434,1431 Q2437,1431 2437.7,1428"/><path d="M2354.8,1414.2 L2393,1414.2 L2393,1418 Q2393,1424.5 2387,1424.5 L2361,1424.5 Q2354.8,1424.5 2354.8,1418 Z"/><line x1="2355.5" y1="1415.5" x2="2392.5" y2="1415.5" stroke-width="1.3"/><rect x="2319.4" y="1431.9" width="108.1" height="5.6" fill="#fff"/><line x1="2349" y1="1432" x2="2349" y2="1437.5" stroke-width="1.5"/><line x1="2398" y1="1432" x2="2398" y2="1437.5" stroke-width="1.5"/><path d="M2325,1438.4 L2325,1442 Q2325,1447.8 2331,1447.8 L2417,1447.8 Q2422.8,1447.8 2422.8,1442 L2422.8,1438.4" fill="#fff"/><rect x="2352" y="1440.3" width="43.8" height="18.7" fill="#fff"/><line x1="2352.5" y1="1459" x2="2395.3" y2="1459" stroke-width="2.8"/><line x1="2361.3" y1="1459" x2="2361.3" y2="1823.2"/><line x1="2385.5" y1="1459" x2="2385.5" y2="1823.2"/><path d="M2320.2,1440.0 L2321.3,1442.3 L2319.1,1444.6 L2321.3,1447.0 L2319.1,1449.3 L2321.3,1451.6 L2319.1,1453.9 L2321.3,1456.3 L2319.1,1458.6 L2321.3,1460.9 L2319.1,1463.2 L2321.3,1465.5 L2319.1,1467.9 L2321.3,1470.2 L2319.1,1472.5 L2321.3,1474.8 L2319.1,1477.2 L2321.3,1479.5 L2319.1,1481.8 L2321.3,1484.1 L2319.1,1486.5 L2321.3,1488.8 L2319.1,1491.1 L2321.3,1493.4 L2319.1,1495.7 L2321.3,1498.1 L2319.1,1500.4 L2321.3,1502.7 L2319.1,1505.0 L2321.3,1507.4 L2319.1,1509.7 L2320.2,1512.0"/><path d="M2320.2,1512 L2322,1514.8 L2361.3,1514.8"/><rect x="2325" y="1514.8" width="36.3" height="23.3" fill="#fff"/><line x1="2325" y1="1538.5" x2="2361.3" y2="1538.5" stroke-width="2.8"/><rect x="2330.6" y="1540" width="30.7" height="14.0" fill="#fff"/><line x1="2329" y1="1554.5" x2="2361.3" y2="1554.5" stroke-width="3"/><rect x="2327" y="1556.5" width="34.3" height="43.1" rx="2" fill="none"/><line x1="2327.5" y1="1569.8" x2="2361" y2="1569.8" stroke-width="2.2"/><line x1="2327.5" y1="1578.2" x2="2361" y2="1578.2" stroke-width="2.2"/><line x1="2327.5" y1="1582.8" x2="2361" y2="1582.8" stroke-width="2.2"/><line x1="2327.5" y1="1594" x2="2361" y2="1594" stroke-width="2.2"/><path d="M2327,1560 Q2324,1563 2327,1567 M2327,1571 Q2324,1575 2327,1578 M2327,1584 Q2324,1588 2327,1592" stroke-width="1.8"/><path d="M2361.3,1644.4 L2326.4,1644.4 L2315.1,1651.7 L2315.1,1706.9 L2345.8,1706.9 Q2355,1706.9 2361.3,1699" fill="#fff" stroke-width="2.4"/><line x1="2327" y1="1644.9" x2="2361.3" y2="1644.9" stroke-width="3.4"/><path d="M2385.8,1644.4 L2421,1644.4 L2432.3,1651.7 L2432.3,1706.9 L2385.8,1706.9" fill="#fff" stroke-width="2.4"/><line x1="2385.8" y1="1644.9" x2="2421" y2="1644.9" stroke-width="3.4"/><path d="M2323.3,1666.5 L2318.6,1704.5 M2424,1666.5 L2428.6,1704.5" stroke-width="3.4"/><line x1="2323" y1="1698.7" x2="2361.3" y2="1698.7" stroke-width="2"/><line x1="2386" y1="1698.7" x2="2424" y2="1698.7" stroke-width="2"/><path d="M2326,1665.5 L2354,1665.5 L2354.5,1672 L2360,1672 M2323.5,1666 Q2326.5,1660 2325,1653" stroke-width="2.2"/><path d="M2326,1652.7 L2350,1652.7 Q2354,1652.7 2354,1658.5 Q2354,1664.5 2350,1664.5 L2326,1664.5" stroke-width="2"/><rect x="2386.5" y="1647.5" width="10.5" height="24.5" fill="none" stroke-width="2"/><path d="M2404,1653 Q2400,1653 2400,1658.5 Q2400,1665 2405,1665 L2416,1665 M2386,1673.5 L2424,1673.5" stroke-width="2.6"/><path d="M2386,1685.5 L2400,1685.5 L2410.5,1674" stroke-width="2"/><line x1="2400" y1="1686" x2="2400" y2="1718.5" stroke-width="2"/><line x1="2386" y1="1718.5" x2="2400" y2="1718.5" stroke-width="2"/><rect x="2345.8" y="1706.9" width="15.5" height="11.6" fill="none"/><path d="M2357,1718.8 L2359,1738 L2357,1740 L2359.5,1756 L2357.5,1758 L2360,1775 L2358,1777 L2360.5,1787.8" stroke-width="2"/><path d="M2389.8,1718.8 L2387.8,1738 L2389.8,1740 L2387.3,1756 L2389.3,1758 L2386.8,1775 L2388.8,1777 L2386.3,1787.8" stroke-width="2"/><rect x="2343.8" y="1823.2" width="59.6" height="19.5" rx="1.2" fill="#fff"/><line x1="2354" y1="1825" x2="2354" y2="1842.7" stroke-width="1.8"/><line x1="2393.2" y1="1825" x2="2393.2" y2="1842.7" stroke-width="1.8"/><path d="M2355,1827 Q2373.6,1822 2392,1827" stroke-width="1.8"/><path d="M2334.5,1843.7 L2412.8,1843.7 L2416.5,1847.5 L2416.5,1890 L2412.8,1894 L2334.5,1894 L2330.8,1890 L2330.8,1847.5 Z" fill="#fff" stroke-width="2.6"/><line x1="2332" y1="1848.8" x2="2415" y2="1847.2" stroke-width="2.3"/><line x1="2332" y1="1853.3999999999999" x2="2415" y2="1851.8" stroke-width="2.3"/><line x1="2332" y1="1858.0" x2="2415" y2="1856.4" stroke-width="2.3"/><line x1="2332" y1="1862.6" x2="2415" y2="1861.0" stroke-width="2.3"/><line x1="2332" y1="1867.2" x2="2415" y2="1865.6000000000001" stroke-width="2.3"/><line x1="2332" y1="1871.8" x2="2415" y2="1870.2" stroke-width="2.3"/><line x1="2332" y1="1876.3999999999999" x2="2415" y2="1874.8" stroke-width="2.3"/><line x1="2332" y1="1881.0" x2="2415" y2="1879.4" stroke-width="2.3"/><line x1="2332" y1="1885.6" x2="2415" y2="1884.0" stroke-width="2.3"/><line x1="2332" y1="1890.2" x2="2415" y2="1888.6000000000001" stroke-width="2.3"/></g>
</svg>
</body></html>
